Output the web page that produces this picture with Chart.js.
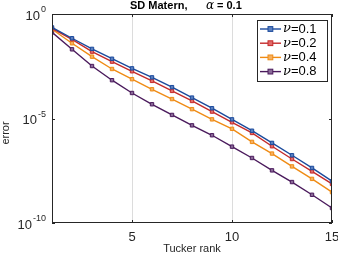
<!DOCTYPE html>
<html>
<head>
<meta charset="utf-8">
<script src="https://cdn.jsdelivr.net/npm/chart.js@4"></script>
<style>
  html, body { margin: 0; padding: 0; background: #fff; }
  #wrap { width: 338px; height: 256px; }
</style>
</head>
<body>
<div id="wrap"><canvas id="errchart" width="338" height="256"></canvas></div>
<script>
// Tucker rank
var ranks = [1, 2, 3, 4, 5, 6, 7, 8, 9, 10, 11, 12, 13, 14, 15];
var nuLabels = ["0.1", "0.2", "0.4", "0.8"];
var nu01 = [0.229, 0.0692, 0.0214, 0.00724, 0.00251, 9.3e-4, 3.16e-4, 1.0e-4, 3.1e-5, 9.1e-6, 2.6e-6, 6.8e-7, 1.74e-7, 4.3e-8, 1.0e-8];
var nu02 = [0.204, 0.0617, 0.0158, 0.00525, 0.00182, 6.3e-4, 2.09e-4, 6.9e-5, 2.14e-5, 6.6e-6, 2.04e-6, 4.7e-7, 1.15e-7, 2.95e-8, 7.4e-9];
var nu04 = [0.186, 0.0398, 0.0091, 0.00234, 7.6e-4, 2.5e-4, 8.5e-5, 2.8e-5, 9.1e-6, 3.2e-6, 7.6e-7, 2.1e-7, 5.1e-8, 1.29e-8, 3.0e-9];
var nu08 = [0.132, 0.0204, 0.00324, 6.8e-4, 1.66e-4, 4.8e-5, 1.48e-5, 4.7e-6, 1.58e-6, 4.5e-7, 1.29e-7, 3.3e-8, 9.1e-9, 2.24e-9, 5.2e-10];
var xTicks = [5, 10, 15];
var yTicks = [1, 1e-5, 1e-10];
var yExponents = ["0", "-5", "-10"];

var colors = ["#1a4a9c", "#c42a2a", "#ef8b14", "#4a1a5c"];
var fills = ["#5a7fc0", "#e06a6a", "#f6b060", "#8a6a98"];
var series = [nu01, nu02, nu04, nu08];
var font = "'Liberation Sans', Arial, sans-serif";
var axisColor = "#262626";

function pts(arr) {
  return arr.map(function (v, i) { return { x: ranks[i], y: v }; });
}

var datasets = series.map(function (s, i) {
  return {
    label: nuLabels[i],
    data: pts(s),
    borderColor: colors[i],
    backgroundColor: fills[i],
    borderWidth: 1.4,
    pointStyle: "rect",
    pointRadius: 2.4,
    pointBorderWidth: 1,
    pointBorderColor: colors[i],
    pointBackgroundColor: fills[i],
    tension: 0,
  };
});

// title, box, ticks + labels (MATLAB style) and the legend
var decor = {
  id: "decor",
  afterDraw: function (chart) {
    var c = chart.ctx, a = chart.chartArea;
    var ys = chart.scales.y, xs = chart.scales.x;
    c.save();
    // box
    c.strokeStyle = axisColor;
    c.lineWidth = 1;
    c.strokeRect(a.left + 0.5, a.top + 0.5, a.right - a.left - 1, a.bottom - a.top - 1);
    // inward ticks
    c.beginPath();
    yTicks.forEach(function (v) {
      var py = Math.round(ys.getPixelForValue(v)) + 0.5;
      c.moveTo(a.left, py); c.lineTo(a.left + 3, py);
      c.moveTo(a.right, py); c.lineTo(a.right - 3, py);
    });
    xTicks.forEach(function (v) {
      var px = Math.round(xs.getPixelForValue(v)) + 0.5;
      c.moveTo(px, a.bottom); c.lineTo(px, a.bottom - 3);
      c.moveTo(px, a.top); c.lineTo(px, a.top + 3);
    });
    c.stroke();

    // tick labels
    c.fillStyle = axisColor;
    c.textAlign = "center";
    c.textBaseline = "middle";
    c.font = "13px " + font;
    xTicks.forEach(function (v) {
      c.fillText(String(v), xs.getPixelForValue(v), a.bottom + 14);
    });
    c.textAlign = "right";
    yTicks.forEach(function (v, i) {
      var py = ys.getPixelForValue(v);
      c.font = "9px " + font;
      c.textBaseline = "middle";
      c.fillText(yExponents[i], 46, py - 4);
      var ew = c.measureText(yExponents[i]).width;
      c.font = "13px " + font;
      c.fillText("10", 46 - ew - 1, py + 2);
    });

    // y axis title
    c.save();
    c.translate(6, 133);
    c.rotate(-Math.PI / 2);
    c.textAlign = "center";
    c.textBaseline = "middle";
    c.font = "11px " + font;
    c.fillText("error", 0, 0);
    c.restore();

    // title
    c.fillStyle = "#000";
    c.textBaseline = "middle";
    c.textAlign = "left";
    c.font = "bold 11px " + font;
    c.fillText("SD Matern,", 130, 6);
    c.font = "italic 12px 'DejaVu Serif', serif";
    c.fillText("\u03B1", 206, 6);
    c.font = "bold 11px " + font;
    c.fillText("= 0.1", 217, 6);

    // legend
    var lx = 257, ly = 20, lw = 70, lh = 61;
    c.fillStyle = "#fff";
    c.fillRect(lx, ly, lw, lh);
    c.strokeStyle = axisColor;
    c.strokeRect(lx + 0.5, ly + 0.5, lw, lh);
    chart.data.datasets.forEach(function (d, i) {
      var y = 29 + i * 14.2;
      c.strokeStyle = d.borderColor;
      c.lineWidth = 1.4;
      c.beginPath();
      c.moveTo(260, y); c.lineTo(281, y);
      c.stroke();
      c.fillStyle = d.pointBackgroundColor;
      c.fillRect(268, y - 2.4, 4.8, 4.8);
      c.lineWidth = 1;
      c.strokeRect(268, y - 2.4, 4.8, 4.8);
      c.fillStyle = "#000";
      c.font = "italic 13px 'DejaVu Serif', serif";
      c.fillText("\u03BD", 283, y);
      var w = c.measureText("\u03BD").width;
      c.font = "13px " + font;
      c.fillText("=" + d.label, 283 + w, y);
    });
    c.restore();
  },
};

new Chart(document.getElementById("errchart").getContext("2d"), {
  type: "line",
  data: { datasets: datasets },
  options: {
    responsive: false,
    animation: false,
    layout: { padding: { top: 14, right: 6, left: 0, bottom: 0 } },
    plugins: { legend: { display: false }, title: { display: false }, tooltip: { enabled: false } },
    scales: {
      x: {
        type: "linear",
        min: 1,
        max: 15,
        afterBuildTicks: function (s) { s.ticks = xTicks.map(function (v) { return { value: v }; }); },
        afterFit: function (s) { s.height = 33; },
        grid: {
          drawTicks: false,
          color: function (ctx) { return ctx.tick && ctx.tick.value === 15 ? "rgba(0,0,0,0)" : "#dcdcdc"; },
        },
        border: { display: false },
        ticks: { display: false },
        title: { display: true, text: "Tucker rank", color: axisColor, font: { family: font, size: 11 }, padding: { top: 0, bottom: 0 } },
      },
      y: {
        type: "logarithmic",
        min: 1e-10,
        max: 1,
        afterBuildTicks: function (s) { s.ticks = yTicks.map(function (v) { return { value: v }; }); },
        afterFit: function (s) { s.width = 52; },
        grid: { display: false },
        border: { display: false },
        ticks: { display: false },
        title: { display: false },
      },
    },
  },
  plugins: [decor],
});
</script>
</body>
</html>
